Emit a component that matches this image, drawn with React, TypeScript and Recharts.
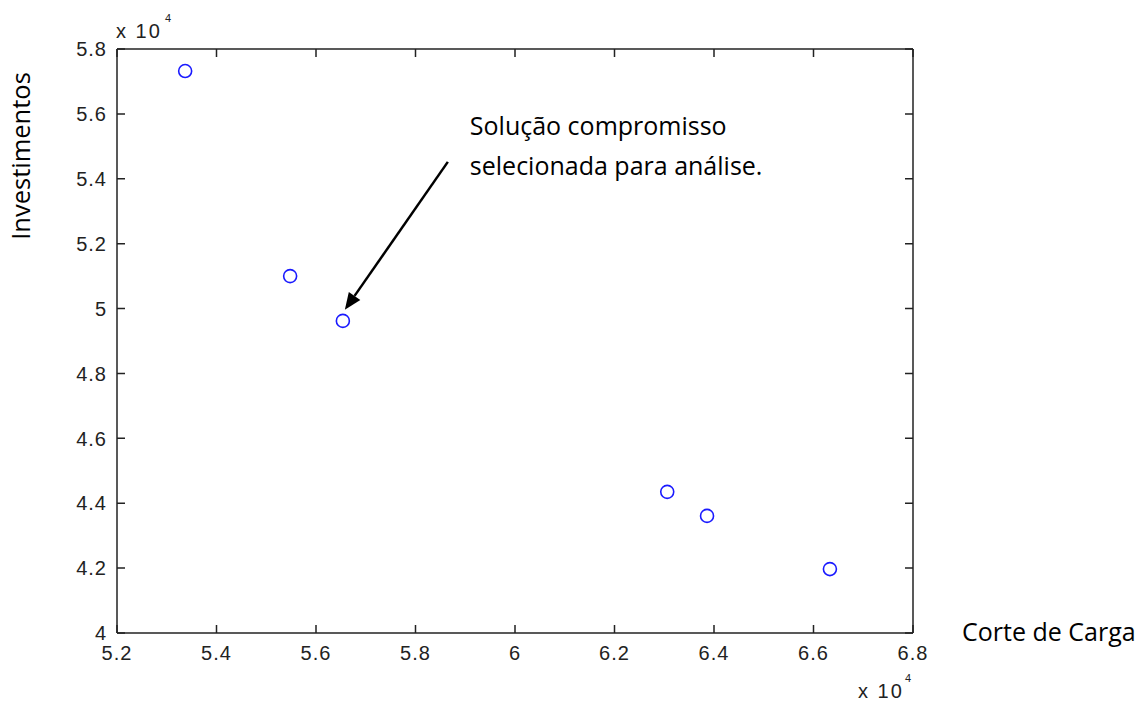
import { ScatterChart, Scatter, XAxis, YAxis, ReferenceLine } from "recharts"

// values in real units (axes show them x 10^4)
const corteDeCarga = [53370, 55480, 56540, 63060, 63860, 66330]
const investimentos = [57320, 51000, 49620, 44350, 43610, 41970]

const xTicks = [52000, 54000, 56000, 58000, 60000, 62000, 64000, 66000, 68000]
const yTicks = [40000, 42000, 44000, 46000, 48000, 50000, 52000, 54000, 56000, 58000]

const arrowFrom = { x: 58650, y: 54520 }
const arrowTo = { x: 56580, y: 49960 }
const annotationLines = ["Solução compromisso", "selecionada para análise."]

const points = corteDeCarga.map((x, i) => ({ x, y: investimentos[i] }))

const W = 1127
const H = 690
const MARGIN = { top: 40, right: 221, bottom: 25, left: 49 }
const plotTop = MARGIN.top + 1
const plotRight = W - MARGIN.right - 1

const axisColor = "#222"
const tickFontFamily = "Liberation Sans"
const textFont = "Open Sans"
const tickLen = 8

const fmt = (v: number) => String(Math.round(v / 1000) / 10)

// MATLAB style box: tick marks point inward on all four sides
const BottomTick = (props: any) => {
  const { x, y, payload } = props
  return (
    <g>
      <path d={`M${x},${y}V${y - tickLen}M${x},${plotTop}V${plotTop + tickLen}`} stroke={axisColor} strokeWidth={1.5} />
      <text x={x} y={y + 27} textAnchor="middle" fontFamily={tickFontFamily} fontSize={20} letterSpacing={1} fill={axisColor}>
        {fmt(payload.value)}
      </text>
    </g>
  )
}

const LeftTick = (props: any) => {
  const { x, y, payload } = props
  return (
    <g>
      <path d={`M${x},${y}H${x + tickLen}M${plotRight},${y}H${plotRight - tickLen}`} stroke={axisColor} strokeWidth={1.5} />
      <text x={x - 10} y={y} dy="0.36em" textAnchor="end" fontFamily={tickFontFamily} fontSize={20} letterSpacing={1} fill={axisColor}>
        {fmt(payload.value)}
      </text>
    </g>
  )
}

const OpenCircle = (props: any) => (
  <circle cx={props.cx} cy={props.cy} r={6.5} fill="none" stroke="#1a1aff" strokeWidth={1.6} />
)

const Arrow = (props: any) => {
  const { x1, y1, x2, y2 } = props
  const dx = x2 - x1
  const dy = y2 - y1
  const len = Math.sqrt(dx * dx + dy * dy)
  const ux = dx / len
  const uy = dy / len
  const head = 17
  const half = 7
  const bx = x2 - ux * head
  const by = y2 - uy * head
  return (
    <g>
      <line x1={x1} y1={y1} x2={bx} y2={by} stroke="#000" strokeWidth={2.5} />
      <polygon
        points={`${x2},${y2} ${bx - uy * half},${by + ux * half} ${bx + uy * half},${by - ux * half}`}
        fill="#000"
      />
      {annotationLines.map((t, i) => (
        <text key={i} x={x1 + 22} y={y1 - 27 + i * 40} fontFamily={textFont} fontSize={25} fill="#000">
          {t}
        </text>
      ))}
    </g>
  )
}

export default function App() {
  return (
    <div style={{ position: "relative", width: W, height: 698, marginBottom: -8 }}>
      <ScatterChart width={W} height={H} margin={MARGIN}>
        <XAxis
          dataKey="x"
          type="number"
          domain={[52000, 68000]}
          ticks={xTicks}
          tickSize={0}
          tickMargin={0}
          tickLine={false}
          height={40}
          stroke={axisColor}
          strokeWidth={1.5}
          tick={BottomTick}
          interval={0}
        />
        <XAxis
          xAxisId="top"
          orientation="top"
          type="number"
          domain={[52000, 68000]}
          height={1}
          stroke={axisColor}
          strokeWidth={1.5}
          tick={false}
          tickLine={false}
        />
        <YAxis
          dataKey="y"
          type="number"
          domain={[40000, 58000]}
          ticks={yTicks}
          tickSize={0}
          tickMargin={0}
          tickLine={false}
          width={60}
          stroke={axisColor}
          strokeWidth={1.5}
          tick={LeftTick}
          interval={0}
        />
        <YAxis
          yAxisId="right"
          orientation="right"
          type="number"
          domain={[40000, 58000]}
          width={1}
          stroke={axisColor}
          strokeWidth={1.5}
          tick={false}
          tickLine={false}
        />
        <ReferenceLine
          segment={[arrowFrom, arrowTo]}
          shape={Arrow}
          ifOverflow="visible"
        />
        <Scatter data={points} shape={OpenCircle} isAnimationActive={false} />
      </ScatterChart>
      <svg
        width={W}
        height={698}
        style={{ position: "absolute", left: 0, top: 0, pointerEvents: "none" }}
      >
        <text x={108} y={30} fontFamily={tickFontFamily} fontSize={20} letterSpacing={2} fill={axisColor}>x 10</text>
        <text x={157} y={14} fontFamily={tickFontFamily} fontSize={11} fill={axisColor}>4</text>
        <text x={850} y={690} fontFamily={tickFontFamily} fontSize={20} letterSpacing={2} fill={axisColor}>x 10</text>
        <text x={897} y={674} fontFamily={tickFontFamily} fontSize={11} fill={axisColor}>4</text>
        <text x={954} y={633} fontFamily={textFont} fontSize={25} fill="#000">Corte de Carga</text>
        <text
          x={22}
          y={148}
          transform="rotate(-90 22 148)"
          textAnchor="middle"
          fontFamily={textFont}
          fontSize={25.5}
          fill="#000"
        >
          Investimentos
        </text>
      </svg>
    </div>
  )
}
